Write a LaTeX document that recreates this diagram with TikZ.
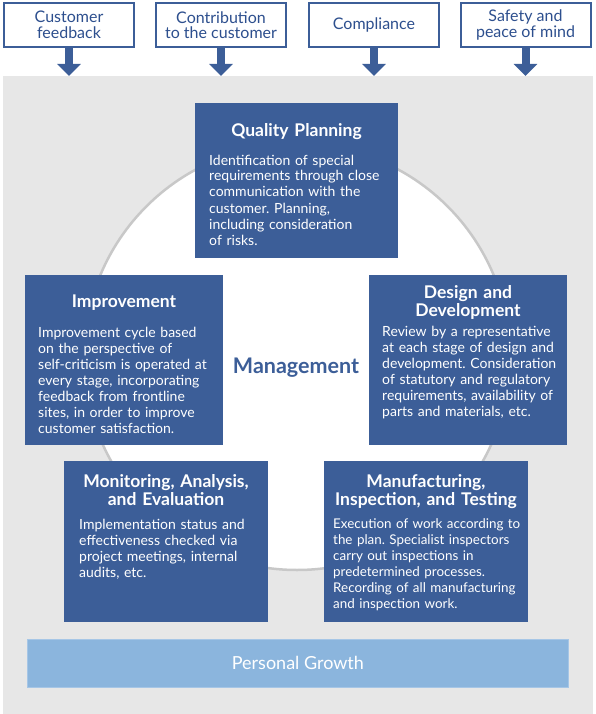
\documentclass[tikz,border=0pt]{standalone}
\usepackage{fontspec}
\setmainfont{Lato}
\usetikzlibrary{arrows.meta}
\definecolor{boxblue}{HTML}{3C5E98}
\definecolor{navy}{HTML}{2D4F8E}
\definecolor{bggray}{HTML}{E7E7E7}
\definecolor{ringgray}{HTML}{C8C8C8}
\definecolor{lightblue}{HTML}{8BB5DD}
\definecolor{lightedge}{HTML}{A6C6E6}
\tikzset{
  bgpanel/.style={fill=bggray, draw=none, inner sep=0pt, outer sep=0pt, anchor=north west},
  ringshape/.style={circle, draw=ringgray, line width=2.5pt, fill=white, inner sep=0pt},
  topbox/.style={draw=boxblue, line width=2pt, fill=white, text=navy, minimum width=130pt, minimum height=44pt, inner sep=0pt, align=center, font=\fontsize{16}{15.5}\selectfont},
  bluebox/.style={fill=boxblue, draw=none, inner sep=0pt, outer sep=0pt, anchor=north west},
  boxtitle/.style={text=white, font=\fontsize{17.5}{18}\selectfont\bfseries, text width=210pt, align=center, inner sep=0pt, anchor=base},
  boxbody/.style={text=white, font=\fontsize{14}{16}\selectfont\frenchspacing, text width=200pt, align=left, inner sep=0pt, anchor=base west},
  smallbody/.style={boxbody, font=\fontsize{13.4}{16}\selectfont\frenchspacing},
  downarrow/.style={draw=boxblue, line width=8pt, -{Triangle[width=23pt,length=12pt]}},
  growthbar/.style={fill=lightblue, draw=lightedge, line width=0.8pt, anchor=north west, minimum width=541pt, minimum height=48pt, inner sep=0pt},
  growthtext/.style={text=white, font=\fontsize{18}{20}\selectfont},
  mgmt/.style={text=boxblue, font=\fontsize{21.5}{24}\selectfont\bfseries, anchor=base},
}
\begin{document}
\begin{tikzpicture}[x=1pt,y=-1pt]
\useasboundingbox (0,0) rectangle (596,714);
% background panel
\node[bgpanel, minimum width=590pt, minimum height=638pt] (bg) at (3,76) {};
% ring
\node[ringshape, minimum size=426pt] (ring) at (297,357) {};
% top boxes
\node[topbox] (tb1) at (69,25) {Customer\\feedback};
\node[topbox] (tb2) at (221,25) {Contribution\\to the customer};
\node[topbox] (tb3) at (374,25) {Compliance};
\node[topbox] (tb4) at (525.5,25) {Safety and\\peace of mind};
\draw[downarrow] (tb1.south) -- (tb1.south |- bg.north);
\draw[downarrow] (tb2.south) -- (tb2.south |- bg.north);
\draw[downarrow] (tb3.south) -- (tb3.south |- bg.north);
\draw[downarrow] (tb4.south) -- (tb4.south |- bg.north);
% management
\node[mgmt] (mg) at (296,373) {Management};
% Quality Planning
\node[bluebox, minimum width=203pt, minimum height=155pt] (qp) at (195,103) {};
\node[boxtitle] (qpt) at (296.5,137) {Quality Planning};
\node[boxbody] (qpb) at (209,165) {Identification of special\\requirements through close\\communication with the\\customer. Planning,\\including consideration\\of risks.};
% Improvement
\node[bluebox, minimum width=198pt, minimum height=170pt] (im) at (25,275) {};
\node[boxtitle] (imt) at (124,307) {Improvement};
\node[boxbody] (imb) at (38,337) {Improvement cycle based\\on the perspective of\\self-criticism is operated at\\every stage, incorporating\\feedback from frontline\\sites, in order to improve\\customer satisfaction.};
% Design and Development
\node[bluebox, minimum width=198pt, minimum height=170pt] (dd) at (369,275) {};
\node[boxtitle] (ddt) at (468,298) {Design and\\Development};
\node[boxbody] (ddb) at (382,336) {Review by a representative\\at each stage of design and\\development. Consideration\\of statutory and regulatory\\requirements, availability of\\parts and materials, etc.};
% Monitoring
\node[bluebox, minimum width=204pt, minimum height=161pt] (mo) at (64,461) {};
\node[boxtitle] (mot) at (166,487) {Monitoring, Analysis,\\and Evaluation};
\node[boxbody] (mob) at (79,529) {Implementation status and\\effectiveness checked via\\project meetings, internal\\audits, etc.};
% Manufacturing
\node[bluebox, minimum width=204pt, minimum height=161pt] (mf) at (324,461) {};
\node[boxtitle] (mft) at (426,487) {Manufacturing,\\Inspection, and Testing};
\node[smallbody] (mfb) at (333,528) {Execution of work according to\\the plan. Specialist inspectors\\carry out inspections in\\predetermined processes.\\Recording of all manufacturing\\and inspection work.};
% Personal Growth
\node[growthbar] (pg) at (27,639) {};
\node[growthtext] (pgt) at (pg.center) {Personal Growth};
\end{tikzpicture}
\end{document}
